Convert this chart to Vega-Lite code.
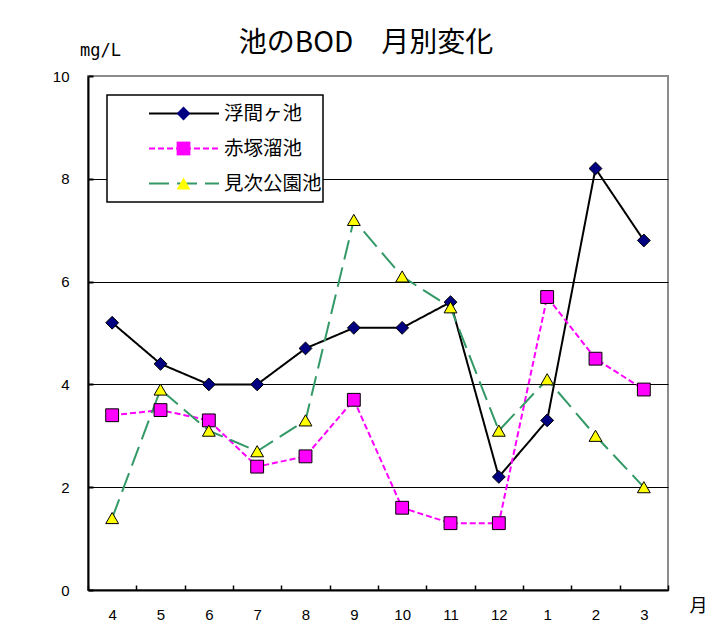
{
  "$schema": "https://vega.github.io/schema/vega-lite/v6.json",
  "width": 580,
  "height": 514,
  "autosize": {"type": "none"},
  "padding": {"left": 88, "top": 76, "right": 52, "bottom": 45},
  "background": "white",
  "config": {"view": {"stroke": "#8c8c8c", "strokeWidth": 2}, "font": "Noto Sans CJK JP", "legend": {"strokeWidth": 1.5}},
  "title": {"text": "池のBOD　月別変化", "fontSize": 28, "fontWeight": "normal", "font": "Noto Sans CJK JP", "frame": "group", "anchor": "middle", "dx": -12, "offset": -17, "color": "black"},
  "data": {"values": [
    {"month": "4", "pond": "浮間ヶ池", "bod": 5.2},
    {"month": "5", "pond": "浮間ヶ池", "bod": 4.4},
    {"month": "6", "pond": "浮間ヶ池", "bod": 4.0},
    {"month": "7", "pond": "浮間ヶ池", "bod": 4.0},
    {"month": "8", "pond": "浮間ヶ池", "bod": 4.7},
    {"month": "9", "pond": "浮間ヶ池", "bod": 5.1},
    {"month": "10", "pond": "浮間ヶ池", "bod": 5.1},
    {"month": "11", "pond": "浮間ヶ池", "bod": 5.6},
    {"month": "12", "pond": "浮間ヶ池", "bod": 2.2},
    {"month": "1", "pond": "浮間ヶ池", "bod": 3.3},
    {"month": "2", "pond": "浮間ヶ池", "bod": 8.2},
    {"month": "3", "pond": "浮間ヶ池", "bod": 6.8},
    {"month": "4", "pond": "赤塚溜池", "bod": 3.4},
    {"month": "5", "pond": "赤塚溜池", "bod": 3.5},
    {"month": "6", "pond": "赤塚溜池", "bod": 3.3},
    {"month": "7", "pond": "赤塚溜池", "bod": 2.4},
    {"month": "8", "pond": "赤塚溜池", "bod": 2.6},
    {"month": "9", "pond": "赤塚溜池", "bod": 3.7},
    {"month": "10", "pond": "赤塚溜池", "bod": 1.6},
    {"month": "11", "pond": "赤塚溜池", "bod": 1.3},
    {"month": "12", "pond": "赤塚溜池", "bod": 1.3},
    {"month": "1", "pond": "赤塚溜池", "bod": 5.7},
    {"month": "2", "pond": "赤塚溜池", "bod": 4.5},
    {"month": "3", "pond": "赤塚溜池", "bod": 3.9},
    {"month": "4", "pond": "見次公園池", "bod": 1.4},
    {"month": "5", "pond": "見次公園池", "bod": 3.9},
    {"month": "6", "pond": "見次公園池", "bod": 3.1},
    {"month": "7", "pond": "見次公園池", "bod": 2.7},
    {"month": "8", "pond": "見次公園池", "bod": 3.3},
    {"month": "9", "pond": "見次公園池", "bod": 7.2},
    {"month": "10", "pond": "見次公園池", "bod": 6.1},
    {"month": "11", "pond": "見次公園池", "bod": 5.5},
    {"month": "12", "pond": "見次公園池", "bod": 3.1},
    {"month": "1", "pond": "見次公園池", "bod": 4.1},
    {"month": "2", "pond": "見次公園池", "bod": 3.0},
    {"month": "3", "pond": "見次公園池", "bod": 2.0}
  ]},
  "encoding": {
    "x": {"field": "month", "type": "ordinal", "sort": null,
      "scale": {"paddingInner": 0, "paddingOuter": 0},
      "axis": {"title": "月", "titleX": 610, "titleY": 16, "titleAngle": 0, "titleAlign": "center", "titleBaseline": "middle", "titleFontSize": 18, "titleFontWeight": "normal", "titleFont": "Noto Sans CJK JP", "titleColor": "black",
        "labelAngle": 0, "labelFontSize": 15, "labelFont": "Liberation Sans", "labelColor": "black", "labelPadding": 22,
        "tickBand": "extent", "tickSize": -5, "tickColor": "black", "tickWidth": 1.5,
        "domainColor": "black", "domainWidth": 2, "grid": false}},
    "y": {"field": "bod", "type": "quantitative",
      "scale": {"domain": [0, 10], "nice": false},
      "axis": {"title": "mg/L", "titleX": 12, "titleY": -26, "titleAngle": 0, "titleAlign": "center", "titleBaseline": "middle", "titleFontSize": 17, "titleFontWeight": "normal", "titleFont": "DejaVu Sans Mono", "titleColor": "black",
        "values": [0, 2, 4, 6, 8, 10], "labelFontSize": 15, "labelFont": "Liberation Sans", "labelColor": "black", "labelPadding": 24,
        "tickSize": -5, "tickColor": "black", "tickWidth": 2,
        "domainColor": "black", "domainWidth": 2,
        "grid": true, "gridWidth": 1,
        "gridColor": {"condition": {"test": "datum.value === 10", "value": "#8c8c8c"}, "value": "black"}}}
  },
  "layer": [
    {
      "mark": {"type": "line", "strokeWidth": 2},
      "encoding": {
        "color": {"field": "pond", "type": "nominal", "sort": null,
          "scale": {"domain": ["浮間ヶ池", "赤塚溜池", "見次公園池"], "range": ["#000000", "#FF00FF", "#339966"]},
          "legend": {"orient": "none", "legendX": 19, "legendY": 19, "title": null, "symbolType": "stroke", "symbolSize": 4900, "symbolStrokeWidth": 2, "clipHeight": 35, "rowPadding": 0, "padding": 1, "symbolOffset": 40, "labelOffset": 4, "labelFontSize": 19.5, "labelFont": "Noto Sans CJK JP", "labelColor": "black", "strokeColor": "black", "fillColor": "white", "zindex": 1}},
        "strokeDash": {"field": "pond", "type": "nominal", "sort": null,
          "scale": {"domain": ["浮間ヶ池", "赤塚溜池", "見次公園池"], "range": [[1, 0], [6, 3], [20, 8]]},
          "legend": {"orient": "none", "legendX": 19, "legendY": 19, "title": null, "symbolType": "stroke", "symbolSize": 4900, "symbolStrokeWidth": 2, "clipHeight": 35, "rowPadding": 0, "padding": 1, "symbolOffset": 40, "labelOffset": 4, "labelFontSize": 19.5, "labelFont": "Noto Sans CJK JP", "labelColor": "black", "strokeColor": "black", "fillColor": "white", "zindex": 1}}
      }
    },
    {
      "mark": {"type": "point", "filled": true, "stroke": "black", "strokeWidth": 1, "size": 165, "opacity": 1},
      "encoding": {
        "shape": {"field": "pond", "type": "nominal", "sort": null,
          "scale": {"domain": ["見次公園池", "赤塚溜池", "浮間ヶ池"], "range": ["triangle-up", "square", "diamond"]},
          "legend": {"orient": "top-left", "offset": 19, "padding": 1, "title": null, "values": ["浮間ヶ池", "赤塚溜池", "見次公園池"], "clipHeight": 35, "rowPadding": 0, "symbolSize": 190, "symbolStrokeColor": "black", "symbolStrokeWidth": 1, "symbolOffset": 68, "labelExpr": "''", "labelOffset": 0, "strokeColor": null, "fillColor": null, "zindex": 2,
            "encode": {"symbols": {"update": {"size": {"value": 175}}}}}},
        "fill": {"field": "pond", "type": "nominal", "sort": null,
          "scale": {"domain": ["見次公園池", "赤塚溜池", "浮間ヶ池"], "range": ["#FFFF00", "#FF00FF", "#000080"]},
          "legend": {"orient": "top-left", "offset": 19, "padding": 1, "title": null, "values": ["浮間ヶ池", "赤塚溜池", "見次公園池"], "clipHeight": 35, "rowPadding": 0, "symbolSize": 190, "symbolStrokeColor": "black", "symbolStrokeWidth": 1, "symbolOffset": 68, "labelExpr": "''", "labelOffset": 0, "strokeColor": null, "fillColor": null, "zindex": 2,
            "encode": {"symbols": {"update": {"size": {"value": 175}}}}}}
      }
    }
  ]
}
